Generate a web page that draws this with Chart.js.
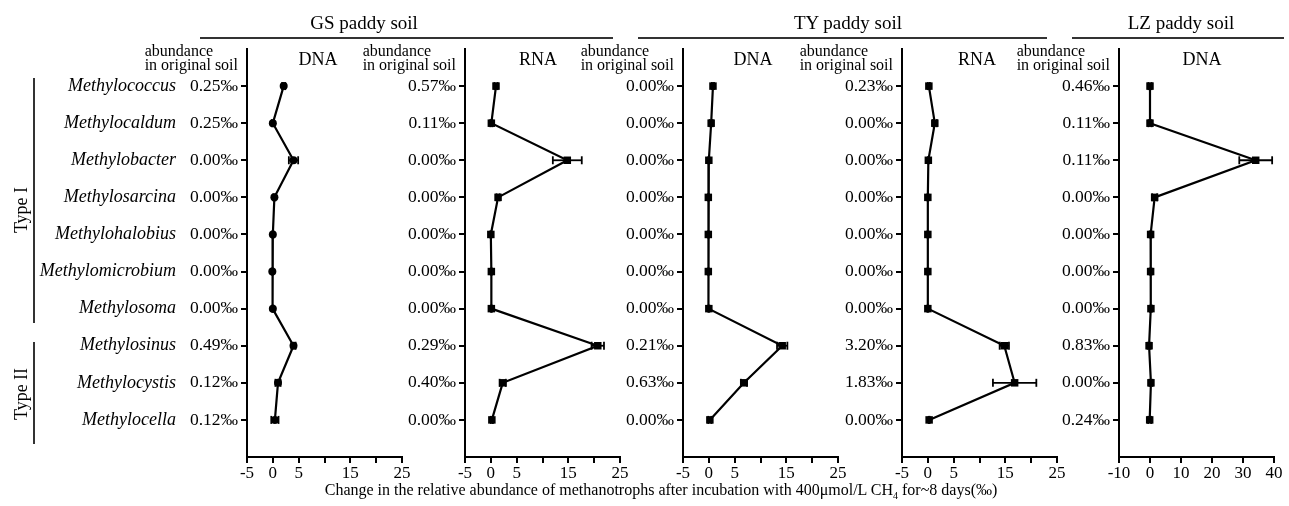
<!DOCTYPE html>
<html><head><meta charset="utf-8">
<script src="https://cdn.jsdelivr.net/npm/chart.js@4.4.1/dist/chart.umd.min.js"></script>
<style>
body{margin:0;background:#fff;width:1289px;height:506px;overflow:hidden;position:relative;font-family:"Liberation Serif","Times New Roman",serif;color:#000}
canvas{position:absolute;top:0}
.t{position:absolute;white-space:nowrap;line-height:1}
.hl{position:absolute;height:2px;background:#333}
.vl{position:absolute;width:2px;background:#333}
.hdr{position:absolute;font-size:16px;line-height:13.5px;text-align:left;white-space:nowrap}
</style></head><body>
<script>
// ---------- data ----------
const genera = ['Methylococcus','Methylocaldum','Methylobacter','Methylosarcina','Methylohalobius','Methylomicrobium','Methylosoma','Methylosinus','Methylocystis','Methylocella'];
const soilGroups = ['GS paddy soil','TY paddy soil','LZ paddy soil'];
const panelNames = ['DNA','RNA','DNA','RNA','DNA'];
const abundHeader = ['abundance','in original soil'];
const typeLabels = ['Type I','Type II'];
const xTitle = 'Change in the relative abundance of methanotrophs after incubation with 400μmol/L CH';
const xTitleSub = '4';
const xTitleEnd = ' for~8 days(‰)';

const gsDnaAbund = ['0.25‰','0.25‰','0.00‰','0.00‰','0.00‰','0.00‰','0.00‰','0.49‰','0.12‰','0.12‰'];
const gsRnaAbund = ['0.57‰','0.11‰','0.00‰','0.00‰','0.00‰','0.00‰','0.00‰','0.29‰','0.40‰','0.00‰'];
const tyDnaAbund = ['0.00‰','0.00‰','0.00‰','0.00‰','0.00‰','0.00‰','0.00‰','0.21‰','0.63‰','0.00‰'];
const tyRnaAbund = ['0.23‰','0.00‰','0.00‰','0.00‰','0.00‰','0.00‰','0.00‰','3.20‰','1.83‰','0.00‰'];
const lzDnaAbund = ['0.46‰','0.11‰','0.11‰','0.00‰','0.00‰','0.00‰','0.00‰','0.83‰','0.00‰','0.24‰'];

const gsDnaChange = [2.1, 0.0, 4.0, 0.3, 0.0, -0.1, 0.0, 4.0, 1.0, 0.4];
const gsDnaErr    = [0.3, 0.2, 0.9, 0.2, 0.1, 0.1, 0.1, 0.4, 0.5, 0.7];
const gsRnaChange = [1.0, 0.1, 14.8, 1.4, 0.0, 0.1, 0.1, 20.7, 2.3, 0.2];
const gsRnaErr    = [0.3, 0.2, 2.8, 0.3, 0.1, 0.1, 0.1, 1.2, 0.6, 0.2];
const tyDnaChange = [0.8, 0.45, 0.0, -0.1, -0.1, -0.1, 0.0, 14.2, 6.8, 0.2];
const tyDnaErr    = [0.2, 0.3, 0.1, 0.1, 0.1, 0.1, 0.1, 1.0, 0.6, 0.3];
const tyRnaChange = [0.2, 1.35, 0.1, 0.0, 0.0, 0.0, 0.0, 14.8, 16.8, 0.25];
const tyRnaErr    = [0.2, 0.4, 0.1, 0.1, 0.1, 0.1, 0.1, 0.9, 4.2, 0.1];
const lzDnaChange = [0.0, 0.0, 34.1, 1.5, 0.2, 0.2, 0.3, -0.3, 0.3, -0.1];
const lzDnaErr    = [0.5, 0.5, 5.3, 0.8, 0.3, 0.3, 0.3, 0.5, 0.5, 0.5];

const xTicksA = [-5, 0, 5, 10, 15, 20, 25];
const xLabelsA = [-5, 0, 5, 15, 25];
const xTicksB = [-10, 0, 10, 20, 30, 40];
const xLabelsB = [-10, 0, 10, 20, 30, 40];

// ---------- layout / style ----------
const FONT = '"Liberation Serif","Times New Roman",serif';
const TOP = 49, BOTTOM = 457, H = 506, PW = 155;
const panels = [
  {axis:247, abund:gsDnaAbund, val:gsDnaChange, err:gsDnaErr, min:-5, max:25, ticks:xTicksA, labels:xLabelsA, style:'circle', nameC:318},
  {axis:465, abund:gsRnaAbund, val:gsRnaChange, err:gsRnaErr, min:-5, max:25, ticks:xTicksA, labels:xLabelsA, style:'rect', nameC:538},
  {axis:683, abund:tyDnaAbund, val:tyDnaChange, err:tyDnaErr, min:-5, max:25, ticks:xTicksA, labels:xLabelsA, style:'rect', nameC:753},
  {axis:902, abund:tyRnaAbund, val:tyRnaChange, err:tyRnaErr, min:-5, max:25, ticks:xTicksA, labels:xLabelsA, style:'rect', nameC:977},
  {axis:1119, abund:lzDnaAbund, val:lzDnaChange, err:lzDnaErr, min:-10, max:40, ticks:xTicksB, labels:xLabelsB, style:'rect', nameC:1202}
];

function addDiv(cls, css, html){
  const d=document.createElement('div'); d.className=cls; d.style.cssText=css; d.innerHTML=html; document.body.appendChild(d); return d;
}

panels.forEach((p, pi) => {
  const leftW = pi === 0 ? p.axis : 62;
  const rightPad = 15;
  const cw = leftW + PW + rightPad;
  const cv = document.createElement('canvas');
  cv.width = cw; cv.height = H;
  cv.style.left = (p.axis - leftW) + 'px';
  cv.style.width = cw + 'px'; cv.style.height = H + 'px';
  document.body.appendChild(cv);

  const main = {
    data: genera.map((g, i) => ({x: p.val[i], y: i})),
    showLine: true, borderColor: '#000', borderWidth: 2.2, backgroundColor: '#000',
    pointStyle: p.style, pointRadius: p.style === 'rect' ? 5.3 : 4, pointBorderWidth: 0,
    order: 0, tension: 0
  };
  const errs = genera.map((g, i) => ({
    data: [{x: p.val[i] - p.err[i], y: i}, {x: p.val[i] + p.err[i], y: i}],
    showLine: true, borderColor: '#000', borderWidth: 1.8,
    pointStyle: 'line', rotation: 90, pointRadius: 4, pointBorderWidth: 1.8, pointBorderColor:'#000',
    order: 1
  }));

  const yTickCfg = (cb, font, pad) => ({callback: cb, font, color: '#000', padding: pad, autoSkip: false});
  const fixY = s => { s.ticks = genera.map((g, i) => ({value: i})); };
  const scales = {
    x: {
      type: 'linear', min: p.min, max: p.max, position: 'bottom',
      afterBuildTicks: s => { s.ticks = p.ticks.map(v => ({value: v})); },
      ticks: {callback: v => p.labels.includes(v) ? String(v) : '', font: {family: FONT, size: 17}, color: '#000', maxRotation: 0, autoSkip: false, padding: 0},
      grid: {display: true, drawOnChartArea: false, drawTicks: true, tickLength: 6, color: '#000', lineWidth: 2},
      border: {display: true, color: '#000', width: 2},
      afterFit: s => { s.height = H - BOTTOM - 19; s.paddingLeft = 0; s.paddingRight = 0; }
    },
    y: {
      type: 'linear', reverse: true, min: -1, max: 10, position: 'left', weight: 0,
      afterBuildTicks: fixY,
      ticks: yTickCfg(v => p.abund[v], {family: FONT, size: 17.5}, 3),
      grid: {display: true, drawOnChartArea: false, drawTicks: true, tickLength: 6, color: '#000', lineWidth: 2},
      border: {display: true, color: '#000', width: 2},
      afterFit: s => { s.width = 62; s.paddingTop = 0; s.paddingBottom = 0; }
    }
  };
  if (pi === 0) {
    scales.g = {
      type: 'linear', reverse: true, min: -1, max: 10, position: 'left', weight: 1,
      afterBuildTicks: fixY,
      ticks: yTickCfg(v => genera[v], {family: FONT, size: 18, style: 'italic'}, 9),
      grid: {display: false, drawTicks: false, drawOnChartArea: false},
      border: {display: false},
      afterFit: s => { s.width = p.axis - 62; s.paddingTop = 0; s.paddingBottom = 0; }
    };
  }

  new Chart(cv, {
    type: 'scatter',
    data: {datasets: [main, ...errs]},
    options: {
      responsive: false, animation: false, devicePixelRatio: 1,
      layout: {padding: {left: 0, right: rightPad, top: TOP, bottom: 19}},
      plugins: {legend: {display: false}, tooltip: {enabled: false}},
      scales
    }
  });

  // panel name (DNA / RNA)
  addDiv('t', `left:${p.nameC}px;top:50px;font-size:18px;transform:translateX(-50%)`, panelNames[pi]);
  // abundance header
  addDiv('hdr', `right:${1289 - (p.axis - 9)}px;top:44px`, abundHeader.join('<br>'));
});

// group titles and lines
const groupPos = [{c:364, l:200, r:613}, {c:848, l:638, r:1047}, {c:1181, l:1072, r:1284}];
soilGroups.forEach((g, i) => {
  const q = groupPos[i];
  addDiv('t', `left:${q.c}px;top:13px;font-size:19px;transform:translateX(-50%)`, g);
  addDiv('hl', `left:${q.l}px;top:37px;width:${q.r - q.l}px`, '');
});

// Type brackets
addDiv('vl', 'left:33px;top:78px;height:245px', '');
addDiv('vl', 'left:33px;top:342px;height:102px', '');
addDiv('t', 'left:21px;top:210px;font-size:18px;transform:translate(-50%,-50%) rotate(-90deg)', typeLabels[0]);
addDiv('t', 'left:21px;top:394px;font-size:18px;transform:translate(-50%,-50%) rotate(-90deg)', typeLabels[1]);

// x-axis title
addDiv('t', 'left:661px;top:482px;font-size:16px;transform:translateX(-50%)', xTitle + '<sub style="font-size:10px">' + xTitleSub + '</sub>' + xTitleEnd);
</script>
</body></html>
